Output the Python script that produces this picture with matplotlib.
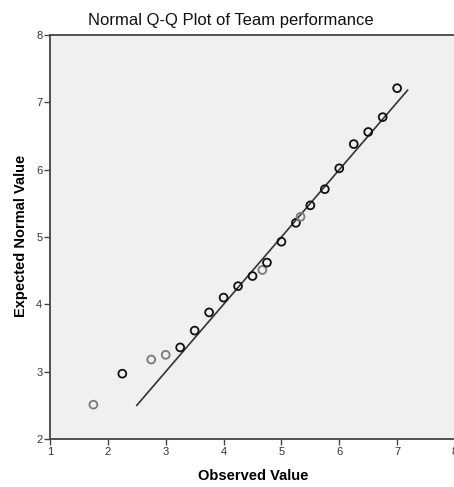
import matplotlib.pyplot as plt
import numpy as np

plt.rcParams['font.family'] = ['Liberation Sans', 'DejaVu Sans']

observed = [1.75, 2.25, 2.75, 3.00, 3.25, 3.50, 3.75, 4.00, 4.25, 4.50, 4.67,
            4.75, 5.00, 5.25, 5.33, 5.50, 5.75, 6.00, 6.25, 6.50, 6.75, 7.00]
expected = [2.51, 2.97, 3.18, 3.25, 3.36, 3.61, 3.88, 4.10, 4.27, 4.42, 4.51,
            4.62, 4.93, 5.21, 5.30, 5.47, 5.71, 6.02, 6.38, 6.56, 6.78, 7.21]
# how many cases share each point (overlapping points look darker)
counts = [1, 2, 1, 1, 2, 2, 2, 2, 2, 2, 1,
          2, 2, 2, 1, 2, 2, 3, 2, 2, 2, 2]

ref_line = [2.5, 7.18]

W, H = 454, 487
fig = plt.figure(figsize=(W / 100, H / 100), dpi=100)
ax = fig.add_axes([50 / W, 1 - 439 / H, 405 / W, 404 / H])
ax.set_facecolor('#f0f0f0')

ax.plot(ref_line, ref_line, color='#333333', lw=1.2, zorder=2)

cols = ['#7a7a7a' if c == 1 else '#111111' for c in counts]
ax.scatter(observed, expected, s=32, facecolors='none', edgecolors=cols,
           linewidths=1.3, zorder=3)

ax.set_xlim(1, 8)
ax.set_ylim(2, 8)
ax.set_xticks(np.arange(1, 9))
ax.set_yticks(np.arange(2, 9))

for s in ['left', 'bottom', 'top']:
    ax.spines[s].set_color('#444444')
    ax.spines[s].set_linewidth(1.3)
ax.spines['right'].set_visible(False)
ax.tick_params(direction='out', length=4.5, width=1, color='#444444',
               labelsize=8, labelcolor='#333333', pad=1)

# axis labels and title
fig.text(253 / W, 1 - 476 / H, 'Observed Value', fontsize=10.5,
         fontweight='bold', ha='center', va='center')
fig.text(21 / W, 1 - 236 / H, 'Expected Normal Value', fontsize=10.5,
         fontweight='bold', ha='center', va='center', rotation=90)
fig.text(231 / W, 1 - 21 / H, 'Normal Q-Q Plot of Team performance',
         fontsize=12, ha='center', va='center', color='#111111')

fig.savefig('out.png', dpi=100)
